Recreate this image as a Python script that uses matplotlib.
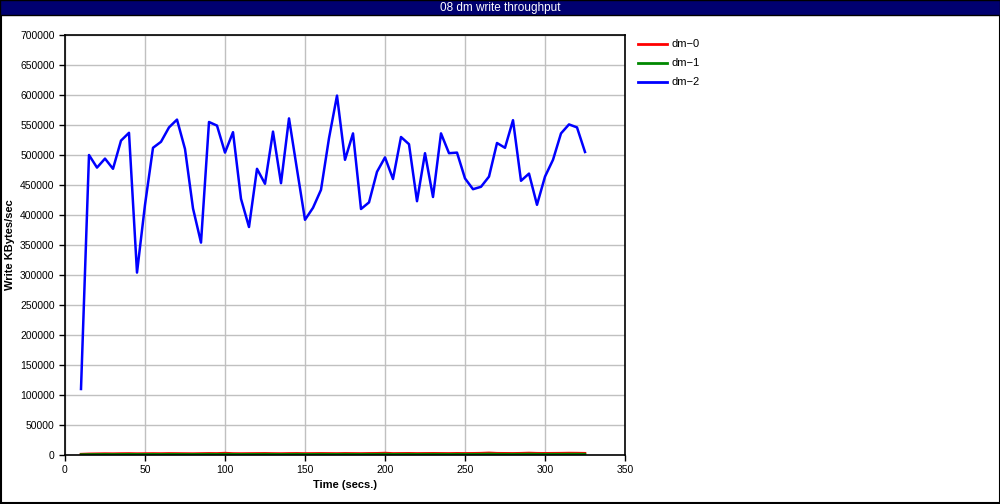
import numpy as np
import matplotlib.pyplot as plt
from matplotlib.patches import Rectangle
from matplotlib.lines import Line2D

plt.rcParams['font.family'] = ['Liberation Sans', 'DejaVu Sans']

# time axis: one sample every 5 seconds
t = np.arange(10, 330, 5)

dm2 = [110000, 500000, 479000, 494000, 477000, 524000, 537000, 304000, 417000, 512000,
       522000, 546000, 559000, 510000, 411000, 354000, 555000, 549000, 504000, 538000,
       427000, 380000, 477000, 452000, 539000, 453000, 561000, 476000, 392000, 412000,
       442000, 528000, 599000, 492000, 536000, 410000, 421000, 472000, 496000, 460000,
       530000, 518000, 423000, 503000, 430000, 536000, 503000, 504000, 461000, 443000,
       447000, 464000, 520000, 512000, 558000, 457000, 469000, 417000, 464000, 492000,
       536000, 551000, 546000, 505000]

dm0 = [1500, 2000, 2200, 2400, 2300, 2500, 2600, 2400, 2500, 2600,
       2500, 2700, 2600, 2500, 2400, 2600, 2800, 2700, 3200, 2600,
       2500, 2600, 2700, 2800, 2600, 2500, 2700, 2800, 2600, 2700,
       2800, 2700, 2600, 2800, 2700, 2600, 2800, 2900, 3300, 2700,
       2800, 2900, 2700, 2800, 2900, 2800, 2700, 2900, 2800, 2900,
       3100, 3600, 3000, 2900, 2800, 3000, 3400, 3000, 2900, 3000,
       3100, 3300, 3200, 3000]

dm1 = [800, 1000, 1100, 1200, 1100, 1200, 1300, 1200, 1200, 1300,
       1200, 1300, 1300, 1200, 1200, 1300, 1400, 1300, 1500, 1300,
       1200, 1300, 1300, 1400, 1300, 1200, 1300, 1400, 1300, 1300,
       1400, 1300, 1300, 1400, 1300, 1300, 1400, 1400, 1600, 1300,
       1400, 1400, 1300, 1400, 1400, 1400, 1300, 1400, 1400, 1400,
       1500, 1800, 1500, 1400, 1400, 1500, 1700, 1500, 1400, 1500,
       1500, 1600, 1600, 1500]

series = [("dm\u22120", dm0, "#ff0000"), ("dm\u22121", dm1, "#008800"), ("dm\u22122", dm2, "#0000ff")]

fig = plt.figure(figsize=(10, 5.04), dpi=100)

# outer frame and title bar
fig.patches.append(Rectangle((0.0005, 0.001), 0.999, 0.998, transform=fig.transFigure,
                             fill=False, edgecolor='black', linewidth=1.5))
fig.patches.append(Rectangle((0, 1 - 15 / 504), 1, 15 / 504, transform=fig.transFigure,
                             facecolor='#000070', edgecolor='black', linewidth=1))
fig.text(0.5, 1 - 7.5 / 504, "08 dm write throughput", color='white', ha='center',
         va='center', fontsize=8.5)

ax = fig.add_axes([0.065, 49 / 504, 0.56, 420 / 504])

for name, vals, col in series:
    ax.plot(t, vals, color=col, linewidth=1.8)

ax.set_xlim(0, 350)
ax.set_ylim(0, 700000)
ax.set_xticks(np.arange(0, 351, 50))
ax.set_yticks(np.arange(0, 700001, 50000))
ax.ticklabel_format(style='plain', axis='y')
ax.tick_params(labelsize=7.5, length=4, width=1)
ax.grid(True, color='#c0c0c0', linewidth=1)
ax.set_axisbelow(True)
for s in ax.spines.values():
    s.set_linewidth(1.2)

ax.set_xlabel("Time (secs.)", fontsize=8, fontweight='bold', labelpad=3)
ax.set_ylabel("Write KBytes/sec", fontsize=8, fontweight='bold')
ax.yaxis.set_label_coords(-0.089, 0.5)

# legend drawn outside on the right
for i, (name, vals, col) in enumerate(series):
    yy = 1 - (44 + 19 * i) / 504
    fig.lines.append(Line2D([0.638, 0.667], [yy, yy], transform=fig.transFigure,
                            color=col, linewidth=2))
    fig.text(0.672, yy, name, fontsize=8, va='center', ha='left')

fig.savefig("out.png", dpi=100)
